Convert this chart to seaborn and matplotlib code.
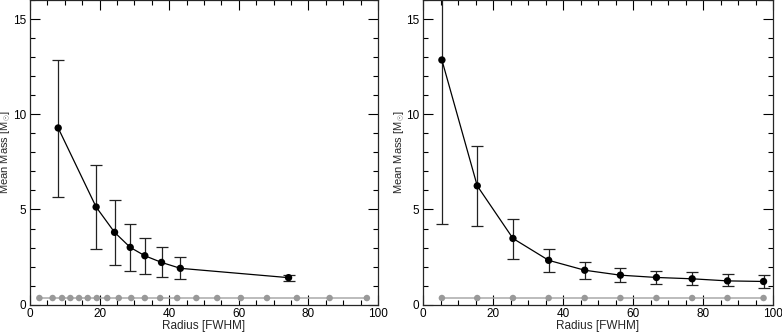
import numpy as np
import seaborn as sns
import matplotlib
matplotlib.use("Agg")
import matplotlib.pyplot as plt
from matplotlib.ticker import MultipleLocator

# left panel: mean mass vs radius
left_r = [8.1, 19.0, 24.3, 28.8, 33.0, 37.8, 43.2, 74.3]
left_m = [9.28, 5.13, 3.80, 3.01, 2.57, 2.22, 1.91, 1.42]
left_hi = [12.87, 7.36, 5.48, 4.26, 3.52, 3.03, 2.49, 1.58]
left_lo = [5.67, 2.94, 2.10, 1.79, 1.59, 1.45, 1.33, 1.26]
left_gray_r = [2.7, 6.5, 9.2, 11.6, 14.1, 16.6, 19.2, 22.2, 25.5, 29.1,
               33.0, 37.4, 42.3, 47.8, 53.8, 60.6, 68.1, 76.7, 86.1, 96.8]
left_gray_m = [0.35] * len(left_gray_r)

# right panel
right_r = [5.4, 15.5, 25.7, 35.9, 46.2, 56.4, 66.7, 76.9, 87.0, 97.3]
right_m = [12.85, 6.24, 3.48, 2.33, 1.81, 1.55, 1.43, 1.36, 1.25, 1.22]
right_hi = [21.5, 8.35, 4.49, 2.92, 2.23, 1.93, 1.77, 1.70, 1.60, 1.57]
right_lo = [4.24, 4.12, 2.42, 1.72, 1.36, 1.20, 1.08, 1.03, 0.97, 0.90]
right_gray_r = right_r
right_gray_m = [0.35] * len(right_gray_r)

sns.set_style("ticks")
plt.rcParams['font.family'] = ['Liberation Sans', 'DejaVu Sans']
plt.rcParams['mathtext.fontset'] = 'custom'
plt.rcParams['mathtext.rm'] = 'Liberation Sans'

fig = plt.figure(figsize=(7.82, 3.33), dpi=100)
ax1 = fig.add_axes([30 / 782, 0.085, 348 / 782, 0.915])
ax2 = fig.add_axes([423 / 782, 0.085, 350 / 782, 0.915])


def draw_panel(ax, r, m, hi, lo, gr, gm, width):
    m = np.array(m)
    yerr = [m - np.array(lo), np.array(hi) - m]
    sns.lineplot(x=gr, y=gm, ax=ax, color="#aaaaaa", lw=1.1, sort=False)
    sns.scatterplot(x=gr, y=gm, ax=ax, color="#999999", s=22, edgecolor="none", zorder=3)
    ax.errorbar(r, m, yerr=yerr, fmt="none", ecolor="#222222", elinewidth=0.9,
                capsize=4, capthick=0.9, zorder=2)
    sns.lineplot(x=r, y=m, ax=ax, color="black", lw=0.9, sort=False)
    sns.scatterplot(x=r, y=m, ax=ax, color="black", s=28, edgecolor="none", zorder=4)
    ax.set_xlim(0, 100)
    ax.set_ylim(0, 16)
    ax.xaxis.set_major_locator(MultipleLocator(20))
    ax.xaxis.set_minor_locator(MultipleLocator(5))
    ax.yaxis.set_major_locator(MultipleLocator(5))
    ax.yaxis.set_minor_locator(MultipleLocator(1))
    ax.tick_params(which="both", direction="in", top=True, right=True,
                   labelsize=8.5, width=0.8, colors="black", pad=2.5)
    ax.tick_params(which="major", length=7)
    ax.tick_params(which="minor", length=3.5)
    for s in ax.spines.values():
        s.set_visible(True)
        s.set_linewidth(0.9)
    ax.set_xlabel("Radius [FWHM]", fontsize=8.5, labelpad=0)
    ax.set_ylabel(r"Mean Mass [M$_{\odot}$]", fontsize=8)
    ax.yaxis.set_label_coords(-16.5 / width, 0.5)


draw_panel(ax1, left_r, left_m, left_hi, left_lo, left_gray_r, left_gray_m, 348)
draw_panel(ax2, right_r, right_m, right_hi, right_lo, right_gray_r, right_gray_m, 350)

fig.savefig("out.png", dpi=100)
